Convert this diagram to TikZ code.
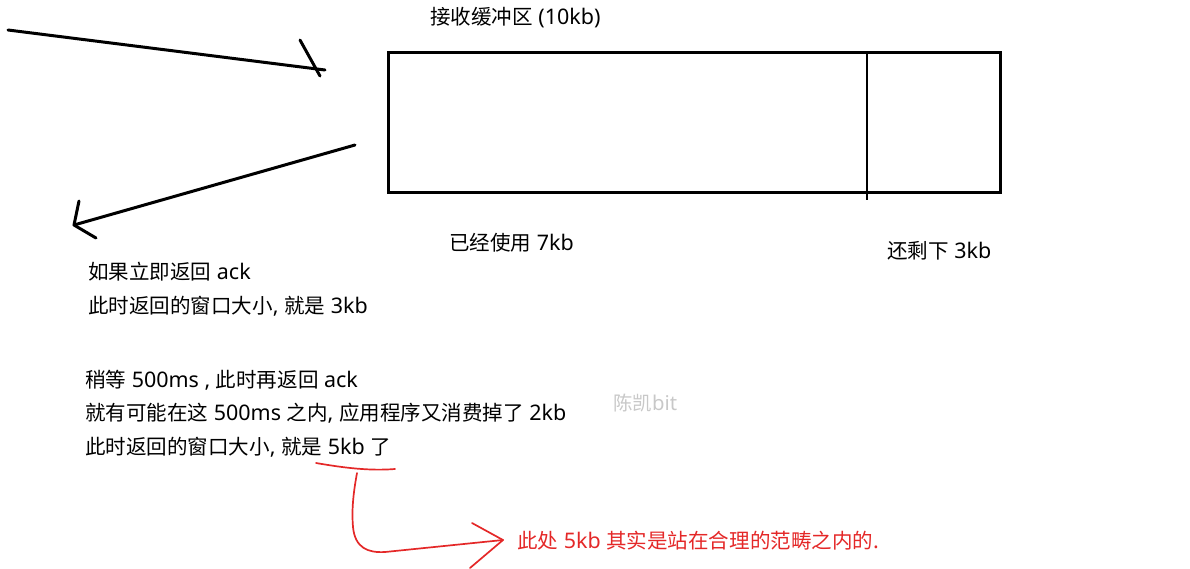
\documentclass[tikz,border=0pt]{standalone}
\usepackage{fontspec}
\setmainfont{Noto Sans}[Scale=1.13]
\newfontfamily\zhfont{Noto Sans CJK SC}[Scale=1.08]
\newcommand\zh[1]{{\zhfont #1}}
\begin{document}
\begin{tikzpicture}[x=1pt,y=-1pt,
  txt/.style={anchor=west,inner sep=0pt,font=\fontsize{19}{19}\selectfont},
  pen/.style={line width=3pt,line cap=round,line join=round},
  redpen/.style={line width=1.7pt,draw={rgb,255:red,228;green,40;blue,40},line cap=round,line join=round}]
\useasboundingbox (0,0) rectangle (1190,568);
% buffer
\draw[line width=3pt] (388,52) rectangle (1000,192);
\coordinate (dtop) at (867,52);
\coordinate (dbot) at (867,200);
\draw[line width=2.8pt] (dtop) -- (dbot);
% arrows
\coordinate (a1s) at (8,30);
\coordinate (a1e) at (325,70);
\coordinate (a1t1) at (300,40);
\coordinate (a1t2) at (320,76);
\draw[pen] (a1s) -- (a1e);
\draw[pen] (a1t1) -- (a1t2);
\coordinate (a2s) at (355,145);
\coordinate (a2e) at (74,225);
\coordinate (a2h1) at (79,201);
\coordinate (a2h2) at (96,238);
\draw[pen] (a2s) -- (a2e);
\draw[pen] (a2h1) -- (a2e) -- (a2h2);
% labels
\node[txt] (title) at (430,18) {\zh{接收缓冲区} (10kb)};
\node[txt] (used) at (449,243) {\zh{已经使用} 7kb};
\node[txt] (left) at (887,251) {\zh{还剩下} 3kb};
\node[txt] (l1) at (88,272) {\zh{如果立即返回} ack};
\node[txt] (l2) at (88,306) {\zh{此时返回的窗口大小}, \zh{就是} 3kb};
\node[txt] (l3) at (85,380) {\zh{稍等} 500ms , \zh{此时再返回} ack};
\node[txt] (l4) at (85,413) {\zh{就有可能在这} 500ms \zh{之内}, \zh{应用程序又消费掉了} 2kb};
\node[txt] (l5) at (85,447) {\zh{此时返回的窗口大小}, \zh{就是} 5kb \zh{了}};
\node[txt,text={rgb,255:red,200;green,200;blue,200},font=\fontsize{18}{18}\selectfont] (wm) at (613,403) {\zh{陈凯}bit};
\node[txt,text={rgb,255:red,228;green,40;blue,40}] (note) at (517,541) {\zh{此处} 5kb \zh{其实是站在合理的范畴之内的}.};
% red marks
\coordinate (u1) at (316,463);
\coordinate (u2) at (395,469);
\draw[redpen] (u1) .. controls (345,468) and (370,471) .. (u2);
\coordinate (h1) at (357,473);
\coordinate (tip) at (503,540);
\draw[redpen] (h1) .. controls (352,500) and (352,515) .. (353,527)
  .. controls (355,548) and (368,553) .. (385,552) -- (tip);
\coordinate (ah1) at (472,523);
\coordinate (ah2) at (470,568);
\draw[redpen] (ah1) -- (tip) -- (ah2);
\end{tikzpicture}
\end{document}
